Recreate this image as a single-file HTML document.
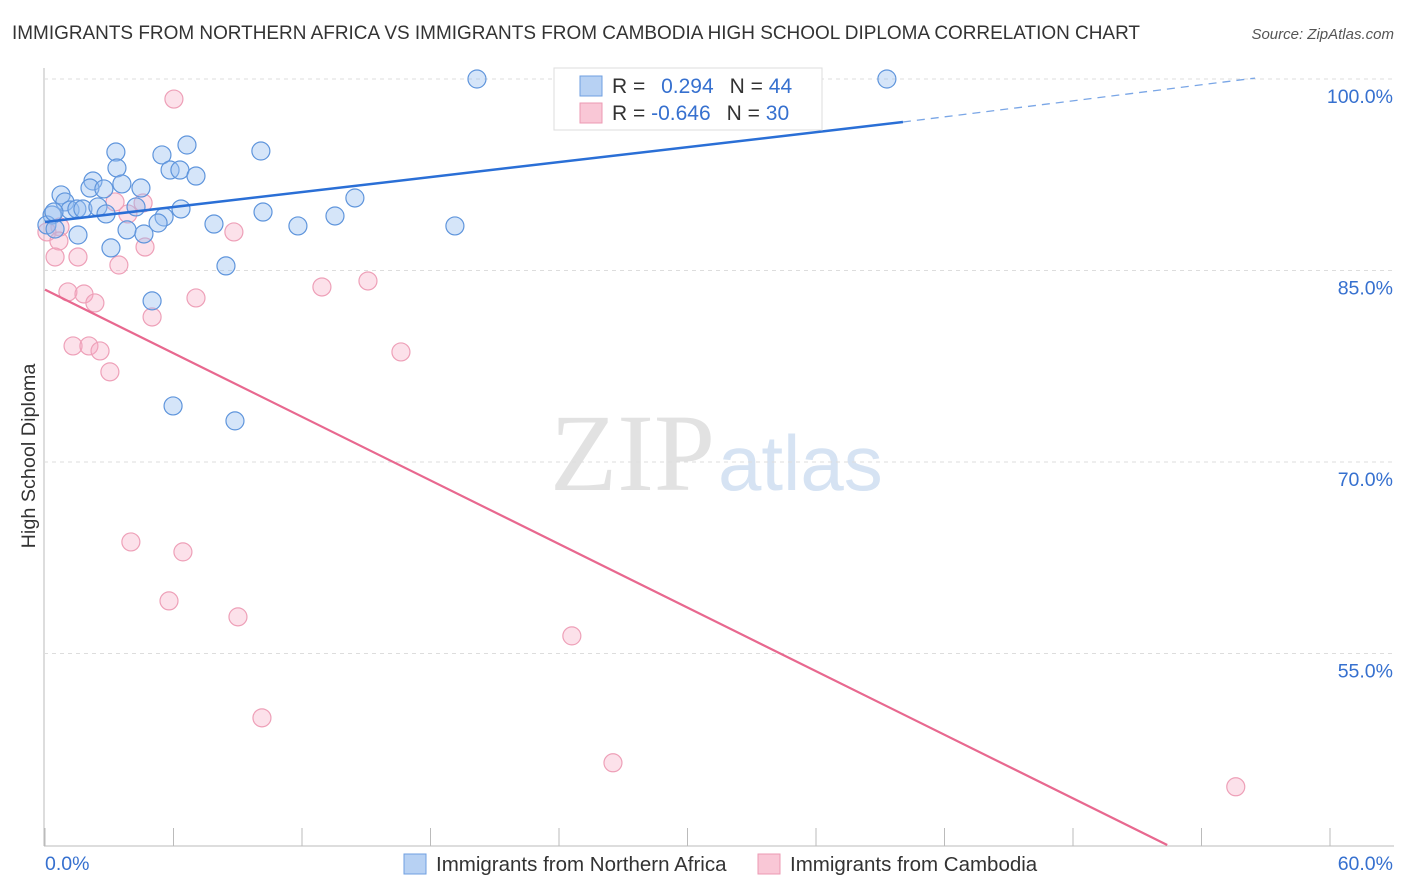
<!DOCTYPE html>
<html><head><meta charset="utf-8"><style>
body{margin:0;background:#fff;font-family:"Liberation Sans",sans-serif;}
#wrap{position:relative;width:1406px;height:892px;overflow:hidden;}
</style></head><body>
<div id="wrap">
<svg id="svg" width="1406" height="892" xmlns="http://www.w3.org/2000/svg">
<text x="12" y="39" font-size="19" fill="#333" textLength="1128" lengthAdjust="spacingAndGlyphs">IMMIGRANTS FROM NORTHERN AFRICA VS IMMIGRANTS FROM CAMBODIA HIGH SCHOOL DIPLOMA CORRELATION CHART</text>
<text x="1394" y="39" font-size="15" fill="#555" font-style="italic" text-anchor="end">Source: ZipAtlas.com</text>
<text x="35" y="456" font-size="19.8" fill="#333" text-anchor="middle" transform="rotate(-90 35 456)">High School Diploma</text>
<text x="715" y="490" font-size="110" fill="#e2e2e2" text-anchor="end" font-family="Liberation Serif,serif">ZIP</text>
<text x="718" y="490" font-size="78" fill="#d6e3f3">atlas</text>
<g id="grid"></g><g id="marks"></g>
<g>
<rect x="554" y="68" width="268" height="62" fill="#fff" stroke="#ddd"/>
<rect x="580" y="76" width="22" height="20" fill="#b7d1f3" stroke="#6f9fe0"/>
<rect x="580" y="103" width="22" height="20" fill="#f9c7d6" stroke="#ec9ab3"/>
<text x="612" y="93" font-size="21" fill="#333">R = <tspan fill="#3670cf" dx="10">0.294</tspan><tspan dx="16" fill="#333">N = </tspan><tspan fill="#3670cf">44</tspan></text>
<text x="612" y="120" font-size="21" fill="#333">R = <tspan fill="#3670cf">-0.646</tspan><tspan dx="16" fill="#333">N = </tspan><tspan fill="#3670cf">30</tspan></text>
</g>
<g>
<rect x="404" y="854" width="22" height="20" fill="#b7d1f3" stroke="#6f9fe0"/>
<text x="436" y="871" font-size="20.5" fill="#333">Immigrants from Northern Africa</text>
<rect x="758" y="854" width="22" height="20" fill="#f9c7d6" stroke="#ec9ab3"/>
<text x="790" y="871" font-size="20.5" fill="#333">Immigrants from Cambodia</text>
</g>
</svg></div>
<script>
const yTicks=[100,85,70,55];
const xTickLabels=["0.0%","60.0%"];
const blueX=[20.17,39.31,3.31,10.08,6.63,5.46,3.36,5.84,6.30,7.05,2.24,3.59,2.10,2.75,4.48,0.75,0.93,1.17,1.49,1.77,2.47,2.85,4.25,6.35,10.18,14.47,13.54,5.56,5.28,7.89,11.81,19.14,0.33,0.09,0.47,1.54,3.83,4.62,3.08,8.45,5.00,5.98,8.87,0.42];
const blueY=[100,100,94.28,94.36,94.83,94.05,93.03,92.87,92.87,92.40,92.01,91.78,91.46,91.39,91.46,90.92,90.37,89.74,89.82,89.82,89.98,89.43,89.98,89.82,89.58,90.68,89.27,89.19,88.72,88.64,88.49,88.49,89.35,88.57,88.25,87.78,88.18,87.86,86.77,85.36,82.62,74.39,73.22,89.58];
const pinkX=[6.02,3.27,4.58,3.87,8.82,0.70,0.09,0.65,4.67,0.47,1.54,3.45,15.08,12.93,1.07,1.82,2.33,7.05,5.00,1.31,2.05,2.57,16.62,3.03,4.01,6.44,5.79,9.01,24.60,10.13,26.52,55.60];
const pinkY=[98.43,90.37,90.29,89.43,88.02,88.41,88.02,87.31,86.84,86.06,86.06,85.43,84.18,83.71,83.32,83.16,82.46,82.85,81.36,79.09,79.09,78.70,78.62,77.06,63.74,62.96,59.12,57.87,56.38,49.96,46.44,44.56];
const blueLine=[[0,88.8],[40.06,96.63],[56.5,100.07]];
const pinkLine=[[0,83.5],[52.4,40.0]];
const X=v=>45+v*1285/60, Y=v=>79+(100-v)*191.5/15;
const NS="http://www.w3.org/2000/svg";
function mk(tag,attrs,parent){const e=document.createElementNS(NS,tag);for(const k in attrs)e.setAttribute(k,attrs[k]);parent.appendChild(e);return e;}
const grid=document.getElementById('grid'),marks=document.getElementById('marks');
mk('line',{x1:44,y1:68,x2:44,y2:846,stroke:'#bbb'},grid);
mk('line',{x1:44,y1:846,x2:1394,y2:846,stroke:'#bbb'},grid);
for(let i=0;i<=10;i++){const t=mk('line',{x1:X(i*6),y1:828,x2:X(i*6),y2:846,stroke:'#bbb'},grid);

}
yTicks.forEach(v=>{const l=mk('line',{x1:44,y1:Y(v),x2:1394,y2:Y(v),stroke:'#ddd','stroke-dasharray':'4,4'},grid);


const t=mk('text',{x:1393,y:Y(v)+24,'font-size':19.5,fill:'#3670cf','text-anchor':'end'},grid);t.textContent=v.toFixed(1)+'%';

});
const xl0=mk('text',{x:45,y:870,'font-size':19.5,fill:'#3670cf'},grid);xl0.textContent=xTickLabels[0];


const xl1=mk('text',{x:1393,y:870,'font-size':19.5,fill:'#3670cf','text-anchor':'end'},grid);xl1.textContent=xTickLabels[1];


pinkX.forEach((x,i)=>{const c=mk('circle',{cx:X(x),cy:Y(pinkY[i]),r:9,fill:'rgba(246,170,195,0.35)',stroke:'#eea0b8','stroke-width':1.2},marks);

});
blueX.forEach((x,i)=>{const c=mk('circle',{cx:X(x),cy:Y(blueY[i]),r:9,fill:'rgba(150,190,240,0.4)',stroke:'#5f95dc','stroke-width':1.2},marks);

});
const bl=mk('line',{x1:X(blueLine[0][0]),y1:Y(blueLine[0][1]),x2:X(blueLine[1][0]),y2:Y(blueLine[1][1]),stroke:'#2a6fd6','stroke-width':2.5},marks);


const bd=mk('line',{x1:X(blueLine[1][0]),y1:Y(blueLine[1][1]),x2:X(blueLine[2][0]),y2:Y(blueLine[2][1]),stroke:'#7aa6e6','stroke-width':1.3,'stroke-dasharray':'8,6'},marks);


const pl=mk('line',{x1:X(pinkLine[0][0]),y1:Y(pinkLine[0][1]),x2:X(pinkLine[1][0]),y2:Y(pinkLine[1][1]),stroke:'#e8688f','stroke-width':2.2},marks);


</script>
</body></html>
